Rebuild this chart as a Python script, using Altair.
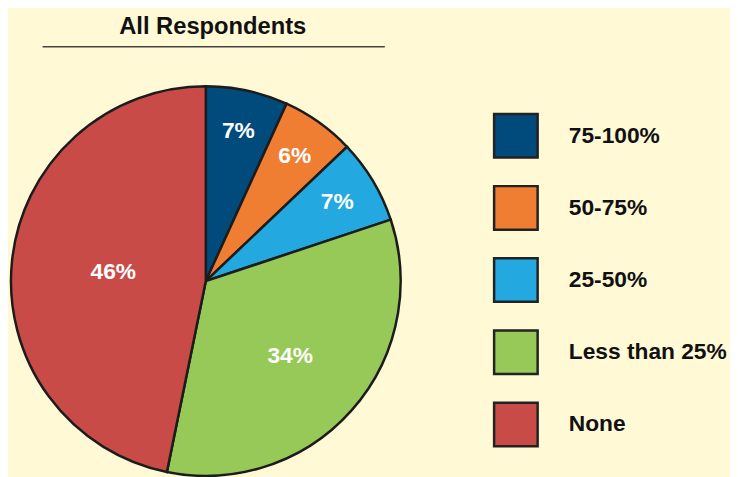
import altair as alt
import pandas as pd

categories = ["75-100%", "50-75%", "25-50%", "Less than 25%", "None"]
values = [6.8, 6.1, 7.0, 33.3, 46.8]
labels = ["7%", "6%", "7%", "34%", "46%"]
colors = ["#004B7C", "#F07E32", "#23A8E0", "#96C957", "#C94B47"]
title_text = "All Respondents"

df = pd.DataFrame({
    "category": categories,
    "value": values,
    "label": labels,
    "order": list(range(len(categories))),
})

FONT = "Liberation Sans"
CX, CY, R = 200, 273.5, 197
TOTAL = sum(values)

pie = alt.Chart(df).mark_arc(outerRadius=R, stroke="#1c1c1c", strokeWidth=2.5).encode(
    theta=alt.Theta("value:Q", stack=True, scale=alt.Scale(domain=[0, TOTAL])),
    order=alt.Order("order:Q"),
    x=alt.value(CX),
    y=alt.value(CY),
    color=alt.Color(
        "category:N",
        scale=alt.Scale(domain=categories, range=colors),
        legend=alt.Legend(
            title=None, orient="none", legendX=490, legendY=103,
            symbolType="square", symbolSize=1936,
            symbolStrokeColor="#222222", symbolStrokeWidth=2.5,
            symbolOpacity=1,
            labelFont=FONT, labelFontSize=23, labelFontWeight="bold",
            labelColor="#111111", labelOffset=30, rowPadding=18, padding=0,
            labelLimit=0,
        ),
    ),
)

text = alt.Chart(df).transform_window(
    cum="sum(value)", sort=[alt.SortField("order")],
    frame=[None, 0],
).transform_calculate(
    mid="datum.cum - datum.value / 2",
    lr="datum.value < 10 ? 155 : (datum.value < 40 ? 114 : 94)",
).mark_text(
    font=FONT, fontSize=23, fontWeight="bold", color="white",
    align="center", baseline="middle",
).encode(
    theta=alt.Theta("mid:Q", stack=None, scale=alt.Scale(domain=[0, TOTAL])),
    radius=alt.Radius("lr:Q", scale=None, stack=None),
    x=alt.value(CX),
    y=alt.value(CY),
    text="label:N",
)

title = alt.Chart(alt.Data(values=[{}])).mark_text(
    text=title_text, font=FONT, fontSize=24, fontWeight="bold",
    color="#111111", align="center", baseline="alphabetic",
).encode(x=alt.value(207), y=alt.value(24))

rule = alt.Chart(alt.Data(values=[{}])).mark_rule(
    color="#444444", strokeWidth=1.5
).encode(x=alt.value(35), x2=alt.value(381), y=alt.value(36.5))

chart = alt.layer(pie, text, title, rule).resolve_scale(
    theta="independent"
).properties(
    width=730, height=469, padding=0, autosize="none",
    background="#FFF9D6",
).configure_view(stroke=None)

chart.save("out.html", embed_options={"renderer": "svg", "actions": False})
